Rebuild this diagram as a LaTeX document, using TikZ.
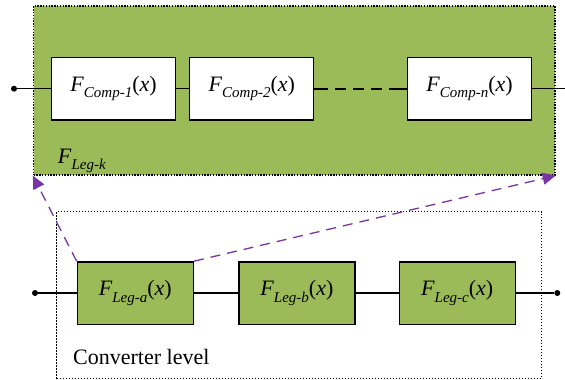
\documentclass[tikz,border=0pt]{standalone}
\usepackage{fontspec}
\setmainfont{Liberation Serif}
\usetikzlibrary{arrows.meta}
\definecolor{legGreen}{HTML}{9BBB59}
\definecolor{arrPurple}{HTML}{7A35A3}
\newcommand{\FF}[2]{\textit{F}\raisebox{-0.28em}{\fontsize{15}{15}\selectfont\textit{#1}}#2}
\tikzset{
  outerbox/.style={draw=black, line width=1.3pt, dash pattern=on 1.4pt off 1.4pt, fill=legGreen, minimum width=521.5pt, minimum height=169pt, inner sep=0pt},
  convbox/.style={draw=black, line width=0.9pt, dash pattern=on 1.5pt off 1.5pt, minimum width=484.8pt, minimum height=166.8pt, inner sep=0pt},
  compbox/.style={draw=black, line width=1.3pt, fill=white, minimum width=124pt, minimum height=62.7pt, inner sep=0pt, font=\fontsize{22}{26}\selectfont},
  legbox/.style={draw=black, line width=1.3pt, fill=legGreen, minimum width=116pt, minimum height=62.3pt, inner sep=0pt, font=\fontsize{22}{26}\selectfont},
  wire/.style={line width=1.3pt},
  dotend/.style={circle, fill=black, inner sep=0pt, minimum size=6pt},
  linkarrow/.style={draw=arrPurple, line width=1.3pt, dash pattern=on 10pt off 7pt, -{Triangle[length=13pt,width=12pt,fill=arrPurple]}},
  lbl/.style={inner sep=0pt, anchor=base west, font=\fontsize{22}{26}\selectfont}
}
\begin{document}
\begin{tikzpicture}[x=1pt,y=-1pt]
\useasboundingbox (0,0) rectangle (565,380);
% upper leg box
\node[outerbox] (legk) at (294.25,90.5) {};
\node[compbox] (c1) at (113.5,88.7) {\FF{Comp-1}{(\textit{x})}};
\node[compbox] (c2) at (251.75,88.7) {\FF{Comp-2}{(\textit{x})}};
\node[compbox] (cn) at (469.5,88.7) {\FF{Comp-n}{(\textit{x})}};
\node[dotend] (din) at (14,88.7) {};
\coordinate (dout) at (566,88.7);
\draw[wire] (din) -- (c1.west);
\draw[wire] (c1.east) -- (c2.west);
\draw[line width=1.8pt, dash pattern=on 14pt off 7pt on 11pt off 7pt on 11pt off 7pt on 11pt off 7pt on 30pt] (c2.east) -- (cn.west);
\draw[wire] (cn.east) -- (dout);
\node[lbl] (lk) at (57.7,163) {\FF{Leg-k}{}};
% converter level
\node[convbox] (conv) at (299.1,295.1) {};
\node[legbox] (la) at (135.3,293) {\FF{Leg-a}{(\textit{x})}};
\node[legbox] (lb) at (296.85,293) {\FF{Leg-b}{(\textit{x})}};
\node[legbox] (lc) at (457.15,293) {\FF{Leg-c}{(\textit{x})}};
\node[dotend] (bin) at (35,293) {};
\node[dotend] (bout) at (557.3,293) {};
\draw[wire] (bin) -- (la.west);
\draw[wire] (la.east) -- (lb.west);
\draw[wire] (lb.east) -- (lc.west);
\draw[wire] (lc.east) -- (bout);
\node[lbl] (cl) at (73,364) {Converter level};
% links
\draw[linkarrow] (la.north west) -- (legk.south west);
\draw[linkarrow] (la.north east) -- (legk.south east);
\end{tikzpicture}
\end{document}
